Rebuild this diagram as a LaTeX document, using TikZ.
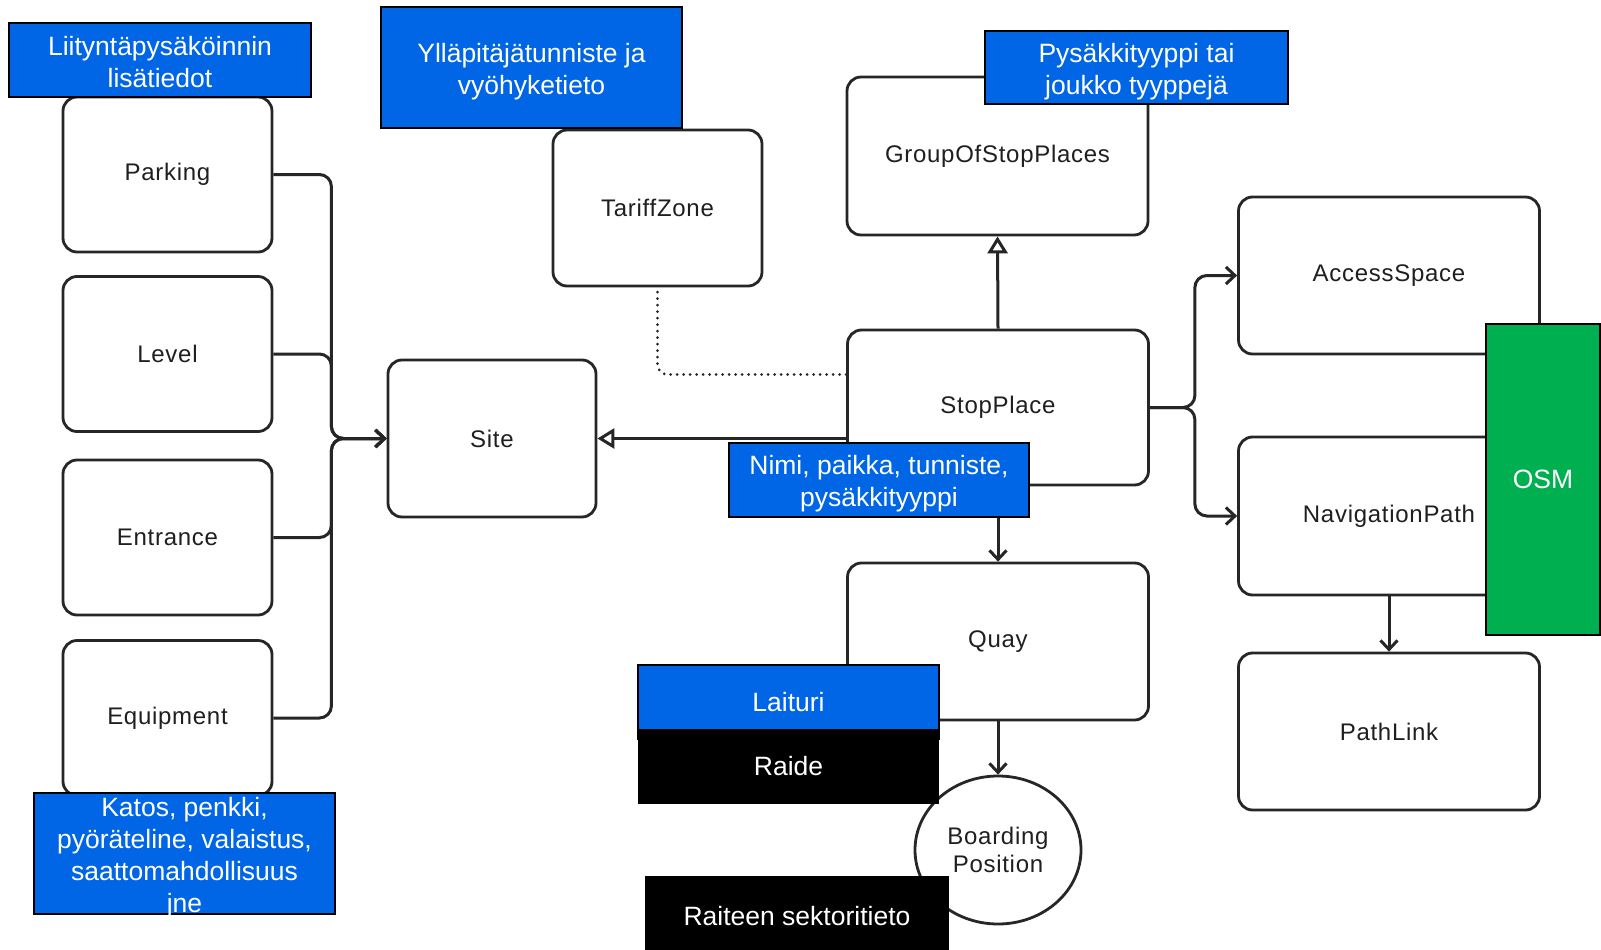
\documentclass[tikz,border=0pt]{standalone}
\usepackage{fontspec}
\setmainfont{Liberation Sans}
\newfontfamily\classfont[LetterSpace=3]{Liberation Sans}
\usetikzlibrary{arrows.meta,calc,shapes.geometric}

\definecolor{labelblue}{RGB}{0,102,230}
\definecolor{osmgreen}{RGB}{0,176,80}
\definecolor{edgegray}{RGB}{38,38,38}

\begin{document}
\begin{tikzpicture}[x=1pt,y=-1pt,
  entity/.style={draw=edgegray, line width=2.8pt, rounded corners=14pt, fill=white,
    minimum width=209pt, minimum height=155pt, inner sep=0pt,
    font=\classfont\fontsize{24}{28}\selectfont, text=black!88, align=center},
  wide/.style={entity, minimum width=301pt},
  note/.style={draw=black, line width=2pt, fill=labelblue, text=white, inner sep=0pt,
    align=center, minimum width=301pt, font=\fontsize{26.5}{32}\selectfont},
  notetext/.style={text=white, inner sep=0pt, align=center, yshift=-4pt,
    font=\fontsize{26.5}{32}\selectfont},
  darknote/.style={fill=black, text=white, inner sep=0pt, align=center,
    minimum width=301pt, font=\fontsize{26.5}{32}\selectfont},
  link/.style={draw=edgegray, line width=3pt, rounded corners=12pt,
    -{Straight Barb[length=9pt,width=17pt]}},
  isa/.style={draw=edgegray, line width=3pt,
    -{Triangle[fill=white,length=17pt,width=20pt]}},
  assoc/.style={draw=edgegray, line width=3pt, rounded corners=10pt,
    dash pattern=on 0pt off 6.5pt, line cap=round},
]
\useasboundingbox[fill=white] (0,0) rectangle (1601,950);

% --- model classes ---
\node[entity] (parking)   at (167.5,174.5) {Parking};
\node[entity] (level)     at (167.5,354)   {Level};
\node[entity] (entrance)  at (167.5,537.5) {Entrance};
\node[entity] (equipment) at (167.5,718)   {Equipment};
\node[entity, minimum width=208pt, minimum height=157pt] (site) at (492,438.5) {Site};
\node[entity, minimum height=156pt] (tariff) at (657.5,208) {TariffZone};
\node[wide, minimum height=158pt] (group) at (997.5,156) {GroupOfStopPlaces};
\node[wide] (stop) at (998,407.5) {StopPlace};
\node[wide, minimum height=157pt] (quay) at (998,641.5) {Quay};
\node[wide, minimum height=157pt] (access) at (1389,275.5) {AccessSpace};
\node[wide, minimum height=158pt] (nav) at (1389,516) {NavigationPath};
\node[wide, minimum height=157pt] (pathlink) at (1389,731.5) {PathLink};
\node[draw=edgegray, line width=2.8pt, ellipse, fill=white, inner sep=0pt,
  minimum width=166pt, minimum height=148pt, align=center,
  font=\classfont\fontsize{24}{28}\selectfont, text=black!88] (bp) at (998,850) {Boarding\\Position};

% --- relations ---
\draw[link] (parking.east)   -- ++(58,0) |- (site.west);
\draw[link] (level.east)     -- ++(58,0) |- (site.west);
\draw[link] (entrance.east)  -- ++(58,0) |- (site.west);
\draw[link] (equipment.east) -- ++(58,0) |- (site.west);
\draw[isa] (site.east -| stop.west) -- (site.east);
\draw[isa] (stop.north) -- (group.south);
\draw[assoc] ($(stop.west)+(0,-33)$) -| (tariff.south);
\draw[link] (stop.east) -- ++(45,0) |- (access.west);
\draw[link] (stop.east) -- ++(45,0) |- (nav.west);
\draw[link] (nav.south) -- (pathlink.north);
\draw[link] (stop.south) -- (quay.north);
\draw[link] (quay.south) -- (bp.north);

% --- annotations ---
\node[note, minimum width=302pt, minimum height=74pt] (n1) at (160,60) {};
\node[notetext, yshift=2pt] at (n1.center) {Liityntäpysäköinnin\\lisätiedot};
\node[note, minimum height=121pt] (n2) at (531.5,67.5) {};
\node[notetext] at (n2.center) {Ylläpitäjätunniste ja\\vyöhyketieto};
\node[note, minimum width=303pt, minimum height=73pt] (n3) at (1136.5,67.5) {};
\node[notetext] at (n3.center) {Pysäkkityyppi tai\\joukko tyyppejä};
\node[note, minimum width=300pt, minimum height=74pt] (n4) at (879,480) {};
\node[notetext] at (n4.center) {Nimi, paikka, tunniste,\\pysäkkityyppi};
\node[note, minimum height=121pt] (n5) at (184.5,853.5) {};
\node[notetext] at (n5.center) {Katos, penkki,\\pyöräteline, valaistus,\\saattomahdollisuus\\jne};
\node[note, minimum height=74pt] (laituri) at (788.5,702) {Laituri};
\node[darknote, minimum height=75pt] (raide) at (788.5,766.5) {Raide};
\node[darknote, minimum width=304pt, minimum height=80pt] (sektori) at (797,916) {Raiteen sektoritieto};
\node[note, fill=osmgreen, minimum width=114pt, minimum height=311pt] (osm) at (1543,479.5) {OSM};
\end{tikzpicture}
\end{document}
